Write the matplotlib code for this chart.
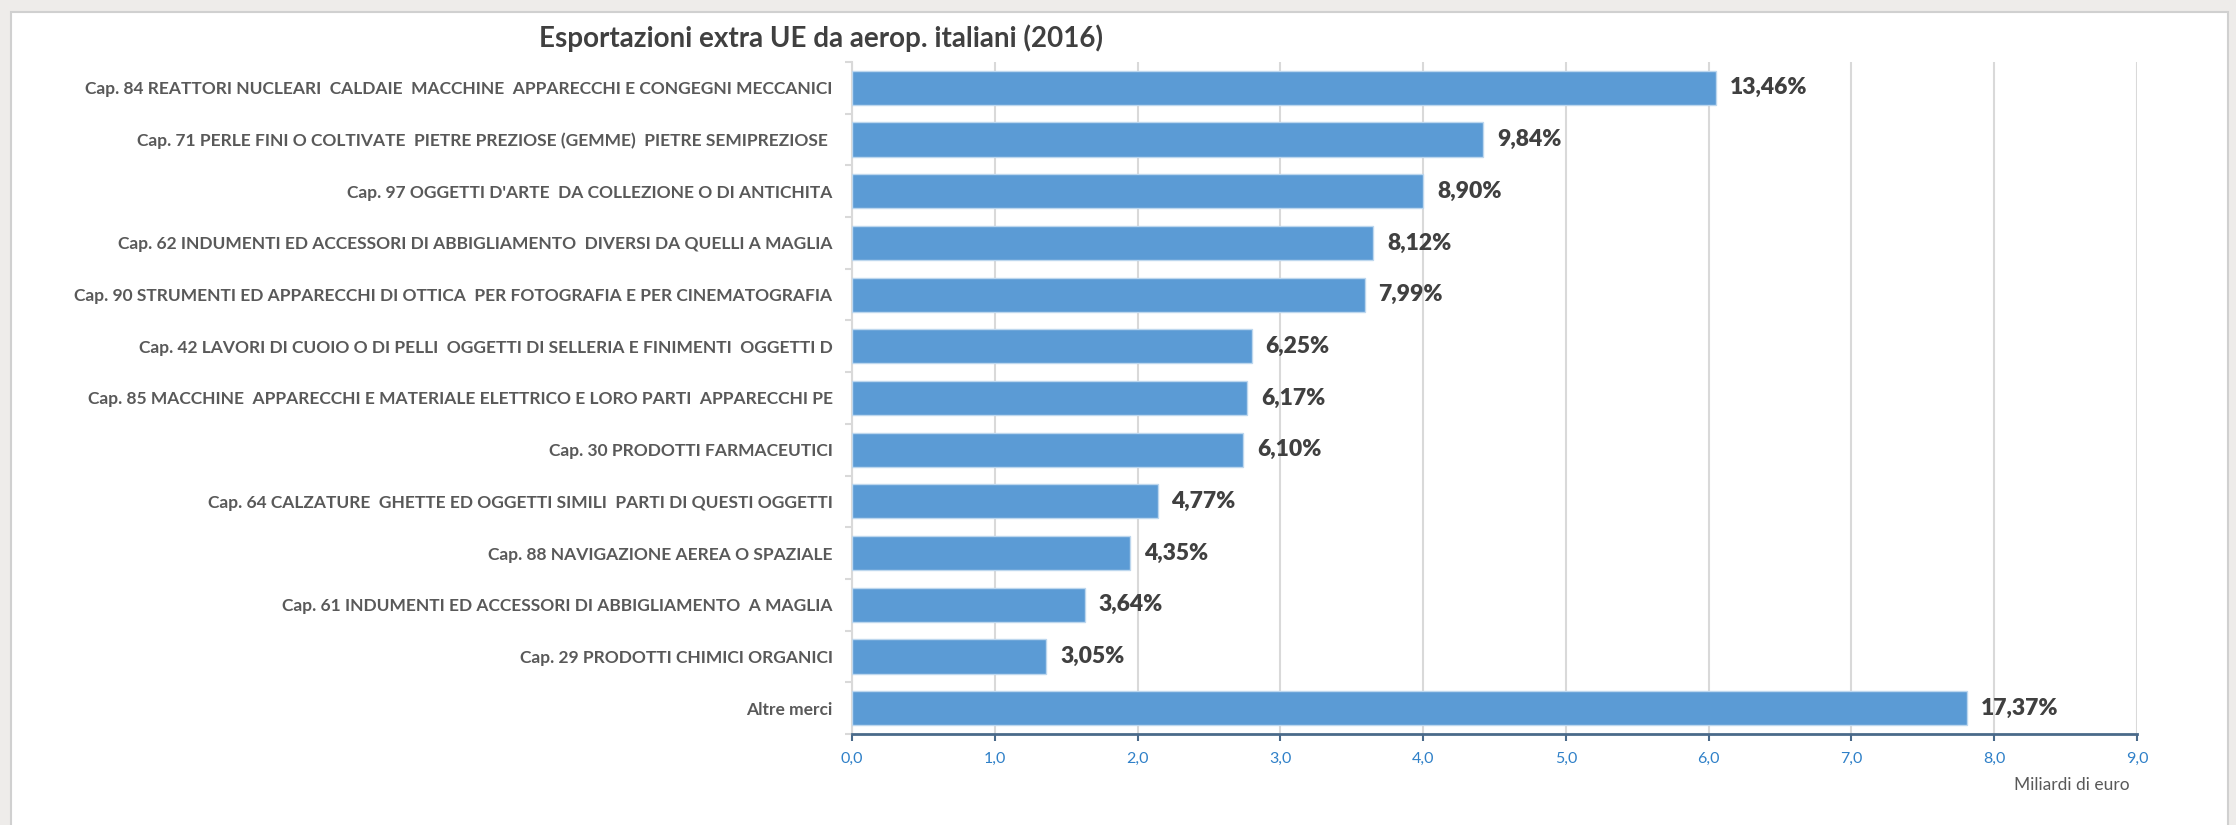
import matplotlib.pyplot as plt
import matplotlib.patches as patches
from matplotlib.ticker import FuncFormatter

plt.rcParams['font.family'] = ['Lato', 'DejaVu Sans']

categorie = [
    "Cap. 84 REATTORI NUCLEARI  CALDAIE  MACCHINE  APPARECCHI E CONGEGNI MECCANICI",
    "Cap. 71 PERLE FINI O COLTIVATE  PIETRE PREZIOSE (GEMME)  PIETRE SEMIPREZIOSE ",
    "Cap. 97 OGGETTI D'ARTE  DA COLLEZIONE O DI ANTICHITA",
    "Cap. 62 INDUMENTI ED ACCESSORI DI ABBIGLIAMENTO  DIVERSI DA QUELLI A MAGLIA",
    "Cap. 90 STRUMENTI ED APPARECCHI DI OTTICA  PER FOTOGRAFIA E PER CINEMATOGRAFIA",
    "Cap. 42 LAVORI DI CUOIO O DI PELLI  OGGETTI DI SELLERIA E FINIMENTI  OGGETTI D",
    "Cap. 85 MACCHINE  APPARECCHI E MATERIALE ELETTRICO E LORO PARTI  APPARECCHI PE",
    "Cap. 30 PRODOTTI FARMACEUTICI",
    "Cap. 64 CALZATURE  GHETTE ED OGGETTI SIMILI  PARTI DI QUESTI OGGETTI",
    "Cap. 88 NAVIGAZIONE AEREA O SPAZIALE",
    "Cap. 61 INDUMENTI ED ACCESSORI DI ABBIGLIAMENTO  A MAGLIA",
    "Cap. 29 PRODOTTI CHIMICI ORGANICI",
    "Altre merci",
]
miliardi = [6.05, 4.42, 4.00, 3.65, 3.59, 2.80, 2.77, 2.74, 2.14, 1.95, 1.63, 1.36, 7.81]
quote = ["13,46%", "9,84%", "8,90%", "8,12%", "7,99%", "6,25%", "6,17%",
         "6,10%", "4,77%", "4,35%", "3,64%", "3,05%", "17,37%"]

fig = plt.figure(figsize=(22.36, 8.25), dpi=100)
fig.patch.set_facecolor('#eeecea')

# riquadro bianco del grafico
fig.patches.append(patches.Rectangle((11 / 2236, -0.01), (2228 - 11) / 2236, 1 - 12 / 825 + 0.01,
                                     transform=fig.transFigure, facecolor='white',
                                     edgecolor='#d0d0d0', linewidth=1.5, zorder=-1))

ax = fig.add_axes([852 / 2236, 1 - 734 / 825, (2137 - 852) / 2236, (734 - 62) / 825])
ax.set_facecolor('none')

y = list(range(len(categorie)))
bars = ax.barh(y, miliardi, height=0.66, color='#5b9bd5', edgecolor='#bdd7ee', linewidth=1, zorder=3)
ax.bar_label(bars, labels=quote, padding=10, fontsize=16.5, fontweight='heavy', color='#404040')

ax.set_ylim(len(categorie) - 0.5, -0.5)
ax.set_xlim(0, 9)
ax.set_xticks(range(10))
ax.xaxis.set_major_formatter(FuncFormatter(lambda v, p: f"{v:.1f}".replace('.', ',')))
ax.grid(axis='x', color='#d9d9d9', linewidth=1.5, zorder=0)

ax.set_yticks(y)
ax.set_yticklabels(categorie, fontsize=12.5, fontweight='bold', color='#595959')
ax.set_yticks([i + 0.5 for i in range(-1, len(categorie))], minor=True)
ax.tick_params(axis='y', which='major', length=0, pad=14)
ax.tick_params(axis='y', which='minor', length=5, color='#d9d9d9', width=1.5)
ax.tick_params(axis='x', length=5, color='#4a6a8a', width=1.5, labelcolor='#2f80c8',
               labelsize=11.5, pad=8)

for s in ['top', 'right']:
    ax.spines[s].set_visible(False)
ax.spines['left'].set_color('#d9d9d9')
ax.spines['left'].set_linewidth(1.5)
ax.spines['bottom'].set_color('#4a6a8a')
ax.spines['bottom'].set_linewidth(2)

fig.text(821 / 2236, 1 - 38 / 825, "Esportazioni extra UE da aerop. italiani (2016)",
         ha='center', va='center', fontsize=20, fontweight='bold', color='#404040')
fig.text(2130 / 2236, 1 - 785 / 825, "Miliardi di euro", ha='right', va='center',
         fontsize=12.5, color='#595959')

fig.savefig('out.png', dpi=100, facecolor=fig.get_facecolor())
